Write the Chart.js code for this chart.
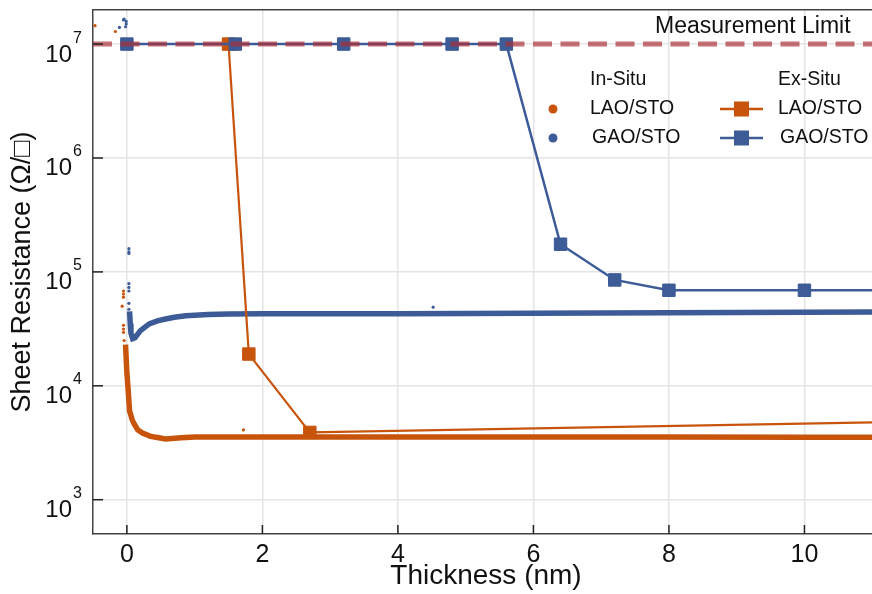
<!DOCTYPE html>
<html>
<head>
<meta charset="utf-8">
<title>Sheet Resistance vs Thickness</title>
<script src="https://cdn.jsdelivr.net/npm/chart.js@4.4.0/dist/chart.umd.min.js"></script>
<style>
  html, body { margin: 0; padding: 0; background: #fff; overflow: hidden; }
  #wrap { width: 882px; height: 594px; }
</style>
</head>
<body>
<div id="wrap"><canvas id="resChart" width="882" height="594"></canvas></div>
<script>
// Axes
const xTicks = [0, 2, 4, 6, 8, 10];
const yTicks = [1e3, 1e4, 1e5, 1e6, 1e7];
const xMin = -0.5, xMax = 11.0;
const yMin = 500, yMax = 2e7;

// Measurement limit
const limitX = [-0.5, 11.0];
const limitY = [1e7, 1e7];

// In-situ LAO/STO (continuous growth trace)
const laoInX = [-0.02, 0.0, 0.02, 0.04, 0.08, 0.11, 0.16, 0.23, 0.35, 0.47, 0.57, 0.8, 1.0, 2.0, 4.0, 6.0, 8.0, 10.0, 11.0];
const laoInY = [2.3e4, 1.3e4, 9.0e3, 6.0e3, 5.0e3, 4.6e3, 4.1e3, 3.85e3, 3.6e3, 3.5e3, 3.42e3, 3.5e3, 3.55e3, 3.55e3, 3.55e3, 3.55e3, 3.55e3, 3.53e3, 3.53e3];
// In-situ LAO/STO scattered points
const laoStrayX = [-0.05, -0.05, -0.05, -0.07, -0.05, -0.05, -0.05, -0.04, -0.47, -0.17, 1.72];
const laoStrayY = [6.8e4, 6.4e4, 6.0e4, 5.0e4, 3.4e4, 3.15e4, 2.95e4, 2.5e4, 1.45e7, 1.29e7, 4.1e3];

// In-situ GAO/STO
const gaoInX = [0.04, 0.05, 0.06, 0.085, 0.12, 0.2, 0.33, 0.45, 0.57, 0.7, 0.87, 1.2, 1.5, 2.0, 4.0, 6.0, 8.0, 10.0, 11.0];
const gaoInY = [4.5e4, 3.5e4, 2.9e4, 2.6e4, 2.65e4, 3.05e4, 3.5e4, 3.72e4, 3.86e4, 4.0e4, 4.12e4, 4.22e4, 4.27e4, 4.3e4, 4.3e4, 4.33e4, 4.38e4, 4.42e4, 4.45e4];
const gaoStrayX = [0.03, 0.03, 0.03, 0.03, 0.03, 0.03, 0.03, 0.03, -0.05, -0.04, -0.01, -0.01, -0.02, -0.11, 4.52];
const gaoStrayY = [1.6e5, 1.5e5, 1.45e5, 7.9e4, 7.3e4, 6.8e4, 5.3e4, 4.7e4, 1.63e7, 1.66e7, 1.58e7, 1.5e7, 1.42e7, 1.4e7, 4.9e4];

// Ex-situ samples
const laoExX = [1.5, 1.8, 2.7, 12.0];
const laoExY = [1e7, 1.9e4, 3.9e3, 4.9e3];
const gaoExX = [0, 1.6, 3.2, 4.8, 5.6, 6.4, 7.2, 8.0, 10.0, 12.0];
const gaoExY = [1e7, 1e7, 1e7, 1e7, 1e7, 1.75e5, 8.5e4, 6.9e4, 6.9e4, 6.9e4];

const ORANGE = '#c8540c';
const BLUE = '#3c5b97';
const LIMIT = 'rgba(170, 45, 55, 0.68)';
const FONT = "'Liberation Sans', Arial, sans-serif";

function pts(xs, ys) {
    return xs.map((x, i) => ({ x: x, y: ys[i] }));
}

// Ticks, titles, legend and frame details
const decorPlugin = {
    id: 'decor',
    afterDraw(chart) {
        const ctx = chart.ctx;
        const area = chart.chartArea;
        const xs = chart.scales.x;
        const ys = chart.scales.y;
        ctx.save();

        // top frame line
        ctx.strokeStyle = '#444';
        ctx.lineWidth = 1.5;
        ctx.beginPath();
        ctx.moveTo(area.left, area.top);
        ctx.lineTo(area.right, area.top);
        ctx.stroke();

        // inward tick marks
        ctx.strokeStyle = '#222';
        ctx.lineWidth = 1.5;
        xTicks.forEach(v => {
            const px = xs.getPixelForValue(v);
            ctx.beginPath();
            ctx.moveTo(px, area.bottom);
            ctx.lineTo(px, area.bottom - 9);
            ctx.stroke();
        });
        yTicks.forEach(v => {
            const py = ys.getPixelForValue(v);
            ctx.beginPath();
            ctx.moveTo(area.left, py);
            ctx.lineTo(area.left + 10, py);
            ctx.stroke();
        });

        // y tick labels as powers of ten
        ctx.fillStyle = '#111';
        yTicks.forEach(v => {
            const py = ys.getPixelForValue(v);
            const exp = Math.round(Math.log10(v));
            ctx.font = '24px ' + FONT;
            ctx.textAlign = 'right';
            ctx.textBaseline = 'alphabetic';
            ctx.fillText('10', 72, py + 17.5);
            ctx.font = '16px ' + FONT;
            ctx.textAlign = 'left';
            ctx.fillText(String(exp), 73, py - 1.5);
        });

        // axis titles
        ctx.font = '28px ' + FONT;
        ctx.textAlign = 'center';
        ctx.textBaseline = 'middle';
        ctx.fillText('Thickness (nm)', 486, 576);
        ctx.save();
        ctx.translate(23, 272);
        ctx.rotate(-Math.PI / 2);
        ctx.font = '27px ' + FONT;
        ctx.fillText('Sheet Resistance (\u03A9/\u25A1)', 0, 0);
        ctx.restore();

        // limit label
        ctx.font = '23px ' + FONT;
        ctx.textAlign = 'left';
        ctx.fillText('Measurement Limit', 655, 27);

        // legend
        ctx.font = '19.5px ' + FONT;
        ctx.fillText('In-Situ', 590, 80);
        ctx.fillText('Ex-Situ', 778, 80);
        ctx.fillText('LAO/STO', 590, 109);
        ctx.fillText('GAO/STO', 592, 138);
        ctx.fillText('LAO/STO', 778, 109);
        ctx.fillText('GAO/STO', 780, 138);

        [[ORANGE, 109], [BLUE, 138]].forEach(([c, y]) => {
            ctx.fillStyle = c;
            ctx.beginPath();
            ctx.arc(553, y, 4.5, 0, Math.PI * 2);
            ctx.fill();
            ctx.strokeStyle = c;
            ctx.lineWidth = 2.5;
            ctx.beginPath();
            ctx.moveTo(720, y);
            ctx.lineTo(763, y);
            ctx.stroke();
            ctx.fillRect(741.5 - 7.5, y - 7.5, 15, 15);
        });

        ctx.restore();
    }
};

const ctx = document.getElementById('resChart');

new Chart(ctx, {
    type: 'scatter',
    data: {
        datasets: [
            {
                label: 'Measurement Limit',
                data: pts(limitX, limitY),
                showLine: true,
                borderColor: LIMIT,
                borderWidth: 5,
                borderDash: [19, 8.5],
                pointRadius: 0
            },
            {
                label: 'GAO/STO Ex-Situ',
                data: pts(gaoExX, gaoExY),
                showLine: true,
                borderColor: BLUE,
                backgroundColor: BLUE,
                borderWidth: 2.5,
                pointStyle: 'rect',
                pointRadius: 8.8,
                pointBorderWidth: 1
            },
            {
                label: 'LAO/STO Ex-Situ',
                data: pts(laoExX, laoExY),
                showLine: true,
                borderColor: ORANGE,
                backgroundColor: ORANGE,
                borderWidth: 2.2,
                pointStyle: 'rect',
                pointRadius: 8.8,
                pointBorderWidth: 1
            },
            {
                label: 'GAO/STO In-Situ',
                data: pts(gaoInX, gaoInY),
                showLine: true,
                borderColor: BLUE,
                borderWidth: 5.5,
                pointRadius: 0
            },
            {
                label: 'GAO/STO In-Situ scatter',
                data: pts(gaoStrayX, gaoStrayY),
                backgroundColor: BLUE,
                borderWidth: 0,
                pointRadius: 1.6
            },
            {
                label: 'LAO/STO In-Situ',
                data: pts(laoInX, laoInY),
                showLine: true,
                borderColor: ORANGE,
                borderWidth: 5.5,
                pointRadius: 0
            },
            {
                label: 'LAO/STO In-Situ scatter',
                data: pts(laoStrayX, laoStrayY),
                backgroundColor: ORANGE,
                borderWidth: 0,
                pointRadius: 1.6
            }
        ]
    },
    options: {
        responsive: false,
        animation: false,
        layout: { padding: { top: 9, right: 0, left: 0, bottom: 0 } },
        plugins: {
            legend: { display: false },
            tooltip: { enabled: false }
        },
        scales: {
            x: {
                type: 'linear',
                min: xMin,
                max: xMax,
                afterBuildTicks: s => { s.ticks = xTicks.map(v => ({ value: v })); },
                afterFit: s => { s.height = 60; },
                grid: { color: '#e4e4e4', lineWidth: 1.5, drawTicks: false },
                border: { color: '#444', width: 1.5 },
                ticks: {
                    color: '#111',
                    font: { family: FONT, size: 25 },
                    padding: 6,
                    maxRotation: 0
                }
            },
            y: {
                type: 'logarithmic',
                min: yMin,
                max: yMax,
                afterBuildTicks: s => { s.ticks = yTicks.map(v => ({ value: v })); },
                afterFit: s => { s.width = 93; },
                grid: { color: '#e4e4e4', lineWidth: 1.5, drawTicks: false },
                border: { color: '#444', width: 1.5 },
                ticks: { display: false }
            }
        }
    },
    plugins: [decorPlugin]
});
</script>
</body>
</html>
